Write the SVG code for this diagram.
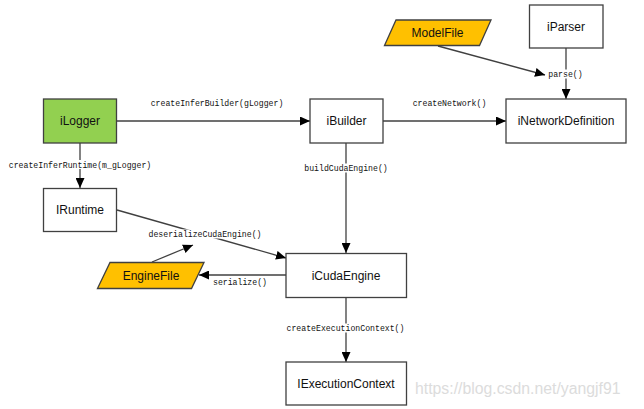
<svg xmlns="http://www.w3.org/2000/svg" width="644" height="409" viewBox="0 0 644 409">
<style>
.box{fill:#fff;stroke:#404040;stroke-width:1.3}
.t{font-family:"Liberation Sans","Noto Sans",sans-serif;font-size:12px;fill:#111;text-anchor:middle}
.c{fill:none;stroke:#404040;stroke-width:1.3}
.lb{fill:#fff}
.l{font-family:"Liberation Mono","DejaVu Sans Mono",monospace;font-size:8.2px;fill:#111;text-anchor:middle}
</style>
<defs>
<marker id="a" markerUnits="userSpaceOnUse" markerWidth="10" markerHeight="9" refX="10" refY="4.5" orient="auto">
<path d="M0,0 L10,4.5 L0,9 z" fill="#000"/>
</marker>
</defs>
<rect width="644" height="409" fill="#fff"/>
<g id="connectors">
<path class="c" d="M117,121 H310" marker-end="url(#a)"/>
<path class="c" d="M80,143 V188" marker-end="url(#a)"/>
<path class="c" d="M383,121 H506" marker-end="url(#a)"/>
<path class="c" d="M566,48 V99" marker-end="url(#a)"/>
<path class="c" d="M438,46 L545,75" marker-end="url(#a)"/>
<path class="c" d="M346,143 V253" marker-end="url(#a)"/>
<path class="c" d="M117,210 L286,258" marker-end="url(#a)"/>
<path class="c" d="M152,262 L193,245" marker-end="url(#a)"/>
<path class="c" d="M286,275 H199" marker-end="url(#a)"/>
<path class="c" d="M346,297 V362" marker-end="url(#a)"/>
<rect class="lb" x="8" y="160" width="144" height="9"/>
<text class="l" x="80" y="167.5">createInferRuntime(m_gLogger)</text>
<text class="l" x="217" y="106">createInferBuilder(gLogger)</text>
<text class="l" x="449.5" y="105.5">createNetwork()</text>
<rect class="lb" x="548" y="69.5" width="35" height="9"/>
<text class="l" x="565.5" y="77">parse()</text>
<rect class="lb" x="305" y="163.5" width="83" height="9"/>
<text class="l" x="346" y="171">buildCudaEngine()</text>
<rect class="lb" x="148" y="229.5" width="115" height="9"/>
<text class="l" x="205" y="237">deserializeCudaEngine()</text>
<text class="l" x="240" y="284.5">serialize()</text>
<rect class="lb" x="286" y="323.5" width="119" height="9"/>
<text class="l" x="345.5" y="331">createExecutionContext()</text>
</g>
<g id="iLogger">
<rect class="box" x="43.5" y="99" width="73" height="44" style="fill:#92d050"/>
<text class="t" x="80" y="125">iLogger</text>
</g>
<g id="iBuilder">
<rect class="box" x="310" y="99" width="73" height="44"/>
<text class="t" x="346.5" y="125">iBuilder</text>
</g>
<g id="iNetworkDefinition">
<rect class="box" x="506" y="99" width="120" height="44"/>
<text class="t" x="566" y="125">iNetworkDefinition</text>
</g>
<g id="iParser">
<rect class="box" x="529.5" y="5" width="73.5" height="43"/>
<text class="t" x="566" y="30.5">iParser</text>
</g>
<g id="ModelFile">
<polygon class="box" points="384.5,45.5 396,20 491,20 479.5,45.5" style="fill:#ffc000"/>
<text class="t" x="437.5" y="37">ModelFile</text>
</g>
<g id="IRuntime">
<rect class="box" x="43.5" y="188.5" width="73" height="43"/>
<text class="t" x="80" y="214">IRuntime</text>
</g>
<g id="EngineFile">
<polygon class="box" points="97.5,288.5 110,262.5 204,262.5 191.5,288.5" style="fill:#ffc000"/>
<text class="t" x="151" y="279.5">EngineFile</text>
</g>
<g id="iCudaEngine">
<rect class="box" x="286" y="253.5" width="120.5" height="44"/>
<text class="t" x="346" y="279.5">iCudaEngine</text>
</g>
<g id="IExecutionContext">
<rect class="box" x="286" y="362" width="120.5" height="43"/>
<text class="t" x="346" y="388">IExecutionContext</text>
</g>
<text x="415" y="394" style="font-family:'Liberation Sans',sans-serif;font-size:15.8px;fill:#dcdcdc">https://blog.csdn.net/yangjf91</text>
</svg>
